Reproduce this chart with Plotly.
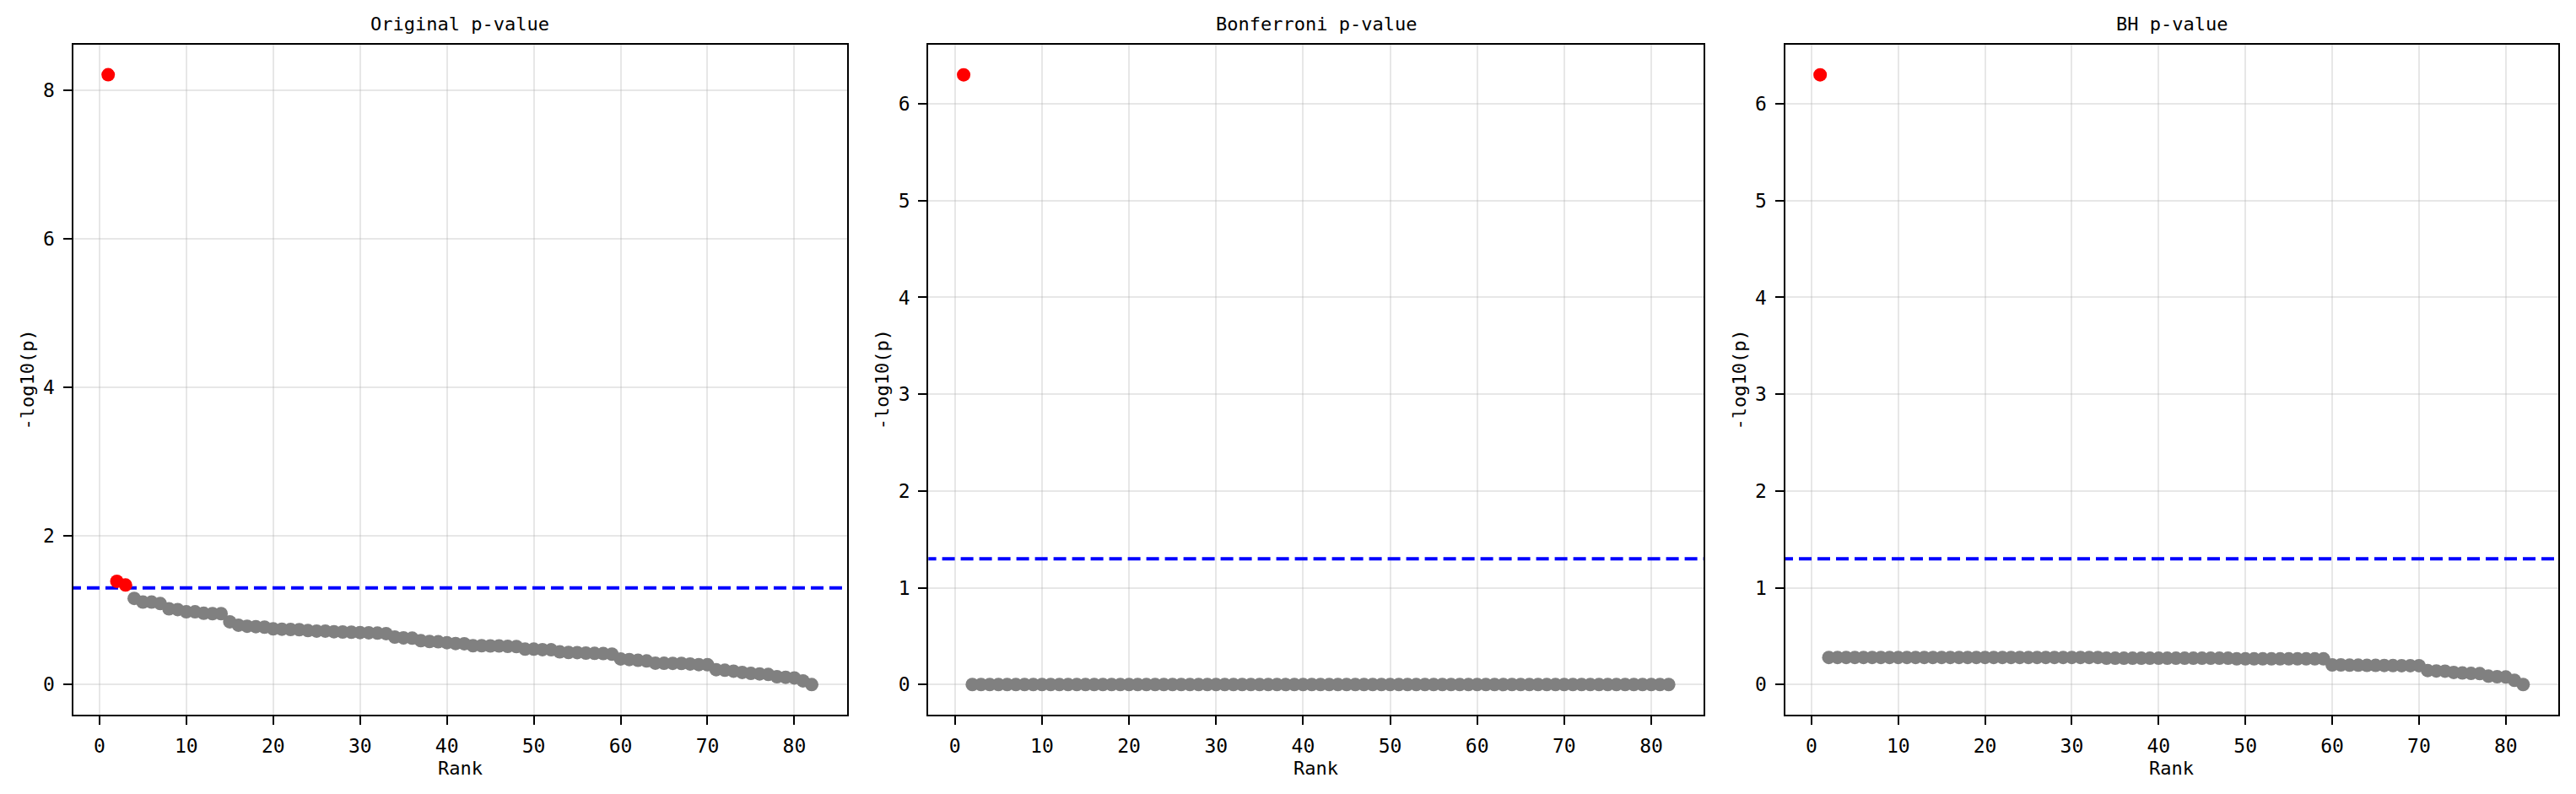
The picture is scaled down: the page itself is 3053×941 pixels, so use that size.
import plotly.graph_objects as go

W, H = 3053, 941
PAGE_OFF = 8  # default browser body margin
FW, FH = W - 2 * PAGE_OFF, H - 2 * PAGE_OFF

ranks = list(range(1, 83))

original = [
    8.21, 1.39, 1.34, 1.16, 1.11, 1.11, 1.09, 1.02, 1.01, 0.98,
    0.98, 0.96, 0.955, 0.955, 0.845, 0.80, 0.785, 0.78, 0.773, 0.75,
    0.746, 0.742, 0.739, 0.727, 0.72, 0.72, 0.712, 0.708, 0.705, 0.70,
    0.697, 0.693, 0.686, 0.64, 0.629, 0.625, 0.59, 0.58, 0.576, 0.564,
    0.553, 0.55, 0.523, 0.523, 0.52, 0.52, 0.515, 0.512, 0.477, 0.477,
    0.47, 0.468, 0.44, 0.432, 0.43, 0.424, 0.42, 0.417, 0.41, 0.345,
    0.337, 0.326, 0.318, 0.288, 0.287, 0.286, 0.285, 0.277, 0.269, 0.268,
    0.20, 0.193, 0.18, 0.163, 0.15, 0.144, 0.136, 0.106, 0.098, 0.09,
    0.05, 0.0,
]

bonferroni = [
    6.30, 0.0, 0.0, 0.0, 0.0, 0.0, 0.0, 0.0, 0.0, 0.0,
    0.0, 0.0, 0.0, 0.0, 0.0, 0.0, 0.0, 0.0, 0.0, 0.0,
    0.0, 0.0, 0.0, 0.0, 0.0, 0.0, 0.0, 0.0, 0.0, 0.0,
    0.0, 0.0, 0.0, 0.0, 0.0, 0.0, 0.0, 0.0, 0.0, 0.0,
    0.0, 0.0, 0.0, 0.0, 0.0, 0.0, 0.0, 0.0, 0.0, 0.0,
    0.0, 0.0, 0.0, 0.0, 0.0, 0.0, 0.0, 0.0, 0.0, 0.0,
    0.0, 0.0, 0.0, 0.0, 0.0, 0.0, 0.0, 0.0, 0.0, 0.0,
    0.0, 0.0, 0.0, 0.0, 0.0, 0.0, 0.0, 0.0, 0.0, 0.0,
    0.0, 0.0,
]

bh = [
    6.30, 0.28, 0.28, 0.28, 0.28, 0.28, 0.28, 0.28, 0.28, 0.28,
    0.28, 0.28, 0.28, 0.28, 0.28, 0.28, 0.28, 0.28, 0.28, 0.28,
    0.28, 0.28, 0.28, 0.28, 0.28, 0.28, 0.28, 0.28, 0.28, 0.28,
    0.28, 0.28, 0.28, 0.272, 0.272, 0.272, 0.272, 0.272, 0.272, 0.272,
    0.272, 0.272, 0.272, 0.272, 0.272, 0.272, 0.272, 0.272, 0.265, 0.265,
    0.265, 0.265, 0.265, 0.265, 0.265, 0.265, 0.265, 0.265, 0.265, 0.203,
    0.203, 0.20, 0.20, 0.198, 0.198, 0.197, 0.196, 0.195, 0.195, 0.195,
    0.145, 0.14, 0.138, 0.125, 0.119, 0.115, 0.113, 0.087, 0.081, 0.078,
    0.044, 0.0,
]

threshold = 1.30  # -log10(0.05)

panel_titles = ["Original p-value", "Bonferroni p-value", "BH p-value"]
panel_values = [original, bonferroni, bh]
y_ranges = [[-0.41, 8.62], [-0.315, 6.615], [-0.315, 6.615]]
y_dticks = [2, 1, 1]
x_ticks = [0, 10, 20, 30, 40, 50, 60, 70, 80]

# target pixel layout on the page (left, right), top, bottom
panels_px = [(86.5, 1003.7), (1100.3, 2019.4), (2115.5, 3032.0)]
top_px, bottom_px = 52.5, 847.4

FONT = "DejaVu Sans Mono"


def px_x(p):
    return (p - PAGE_OFF) / FW


def px_y(p):
    return 1 - (p - PAGE_OFF) / FH


fig = go.Figure()
annotations = []

for i, (vals, title) in enumerate(zip(panel_values, panel_titles)):
    n = i + 1
    xa = "x" if n == 1 else f"x{n}"
    ya = "y" if n == 1 else f"y{n}"
    colors = ["red" if v > threshold else "gray" for v in vals]
    fig.add_trace(go.Scatter(
        x=[-10, 100], y=[threshold, threshold], mode="lines",
        line=dict(color="blue", width=4, dash="15px,7px"),
        xaxis=xa, yaxis=ya, showlegend=False, hoverinfo="skip",
    ))
    fig.add_trace(go.Scatter(
        x=ranks, y=vals, mode="markers",
        marker=dict(size=16, color=colors, line=dict(width=0)),
        xaxis=xa, yaxis=ya, showlegend=False,
    ))
    l, r = panels_px[i]
    dom_x = [px_x(l), px_x(r)]
    dom_y = [px_y(bottom_px), px_y(top_px)]
    axis_common = dict(
        showline=True, mirror=True, linecolor="black", linewidth=2,
        ticks="outside", ticklen=10, tickwidth=2, tickcolor="black",
        showgrid=True, gridcolor="rgba(176,176,176,0.3)", gridwidth=2,
        zeroline=False, ticklabelstandoff=5,
        tickfont=dict(family=FONT, size=23, color="black"),
    )
    fig.layout[f"xaxis{'' if n == 1 else n}"] = dict(
        domain=dom_x, range=[-3.05, 86.05], tickvals=x_ticks,
        anchor=ya, **axis_common,
    )
    fig.layout[f"yaxis{'' if n == 1 else n}"] = dict(
        domain=dom_y, range=y_ranges[i], dtick=y_dticks[i], tick0=0,
        anchor=xa, **axis_common,
    )
    annotations.append(dict(
        text=title, x=px_x((l + r) / 2), y=px_y(29), xref="paper", yref="paper",
        xanchor="center", yanchor="middle", showarrow=False,
        font=dict(family=FONT, size=22, color="black"),
    ))
    annotations.append(dict(
        text="Rank", x=px_x((l + r) / 2), y=px_y(910), xref="paper", yref="paper",
        xanchor="center", yanchor="middle", showarrow=False,
        font=dict(family=FONT, size=22, color="black"),
    ))
    annotations.append(dict(
        text="-log10(p)", x=px_x(l - 54), y=px_y((top_px + bottom_px) / 2),
        xref="paper", yref="paper", xanchor="center", yanchor="middle",
        textangle=-90, showarrow=False,
        font=dict(family=FONT, size=22, color="black"),
    ))

fig.update_layout(
    width=FW, height=FH,
    margin=dict(l=0, r=0, t=0, b=0),
    paper_bgcolor="white", plot_bgcolor="white",
    annotations=annotations,
    showlegend=False,
)

fig.write_html("out.html")
